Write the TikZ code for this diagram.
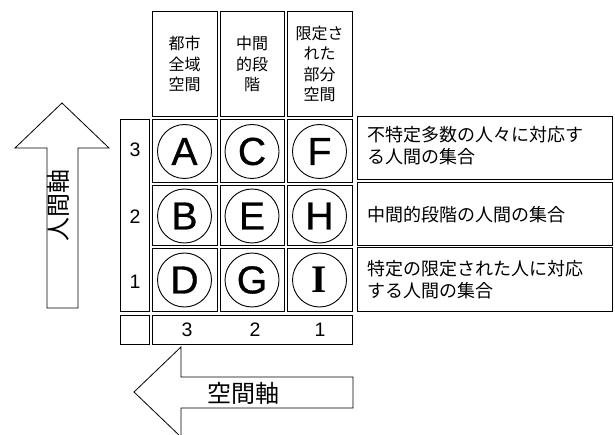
\documentclass[tikz,border=0pt]{standalone}
\usepackage{fontspec}
\setmainfont{Liberation Sans}
\newfontfamily\jp{Noto Sans CJK JP}
\newfontfamily\heavy[FakeBold=0.8]{Liberation Sans}
\newfontfamily\serifI{Liberation Serif}
\begin{document}
\begin{tikzpicture}[x=1pt,y=-1pt,
  box/.style={draw,line width=1pt},
  hdr/.style={font=\jp\fontsize{16}{20.5}\selectfont,align=center,inner sep=0pt},
  desc/.style={font=\jp\fontsize{18}{22}\selectfont,align=left,anchor=west,inner sep=0pt},
  num/.style={font=\fontsize{19.5}{20}\selectfont,inner sep=0pt},
  letter/.style={draw,line width=0.9pt,circle,minimum size=54pt,inner sep=0pt,font=\heavy\fontsize{39}{40}\selectfont},
  axis/.style={font=\jp\fontsize{24}{26}\selectfont,inner sep=0pt}]
\useasboundingbox (0,0) rectangle (615,435);
% headers
\draw[box] (152,12) rectangle (217,117);
\draw[box] (220,12) rectangle (284,117);
\draw[box] (287,12) rectangle (352,117);
\node[hdr] (h1) at (184.5,64) {都市\\全域\\空間};
\node[hdr] (h2) at (252,64) {中間\\的段\\階};
\node[hdr] (h3) at (319.5,64) {限定さ\\れた\\部分\\空間};
% row label strip
\draw[box] (120,120) rectangle (149,311);
\node[num] (r3) at (135,150) {3};
\node[num] (r2) at (135,217) {2};
\node[num] (r1) at (135,282) {1};
% cells
\foreach \xa/\xb in {152/217,220/284,287/352}{
  \foreach \ya/\yb in {120/183,186/246,249/311}{
    \draw[box] (\xa,\ya) rectangle (\xb,\yb);
  }
}
\node[letter] (A) at (184.5,151.5) {A};
\node[letter] (C) at (252,151.5) {C};
\node[letter] (F) at (319.5,151.5) {F};
\node[letter] (B) at (184.5,216) {B};
\node[letter] (E) at (252,216) {E};
\node[letter] (H) at (319.5,216) {H};
\node[letter] (D) at (184.5,280) {D};
\node[letter] (G) at (252,280) {G};
\node[letter,font=\serifI\bfseries\fontsize{39}{40}\selectfont] (I) at (319.5,280) {I};
% descriptions
\draw[box] (357,117) rectangle (612,180);
\draw[box] (357,183) rectangle (612,246);
\draw[box] (357,248) rectangle (612,311);
\node[desc] (d3) at (367,146) {不特定多数の人々に対応す\\る人間の集合};
\node[desc] (d2) at (367,215) {中間的段階の人間の集合};
\node[desc] (d1) at (367,280) {特定の限定された人に対応\\する人間の集合};
% bottom row
\draw[box] (120,315) rectangle (149,344);
\draw[box] (152,315) rectangle (352,344);
\node[num] (c3) at (187,330) {3};
\node[num] (c2) at (255,330) {2};
\node[num] (c1) at (320,330) {1};
% up arrow
\draw[line width=0.8pt] (62,103) -- (109,148) -- (78,148) -- (78,308) -- (47,308) -- (47,148) -- (15,148) -- cycle;
\node[axis,rotate=90] (ya) at (58,206) {人間軸};
% left arrow
\draw[line width=0.8pt] (134,392) -- (181,347) -- (181,377) -- (353,377) -- (353,408) -- (181,408) -- (181,437) -- cycle;
\node[axis] (xa) at (243,393) {空間軸};
\end{tikzpicture}
\end{document}
